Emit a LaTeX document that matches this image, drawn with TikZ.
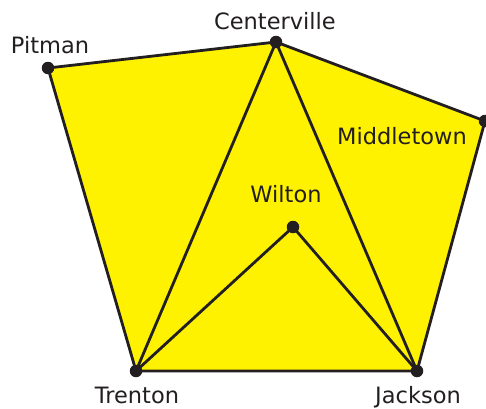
\documentclass[tikz,border=0pt]{standalone}
\usepackage{fontspec}
\setmainfont{DejaVu Sans}
\usetikzlibrary{backgrounds}
\definecolor{ink}{HTML}{231F20}
\definecolor{region}{HTML}{FFF200}

\begin{document}
\begin{tikzpicture}[x=1pt, y=-1pt,
  town/.style={circle, fill=ink, inner sep=0pt, minimum size=12.5pt},
  lbl/.style={anchor=base, text=ink, font=\fontsize{22.5}{26}\selectfont, inner sep=0pt},
  road/.style={draw=ink, line width=2.8pt, line join=round}
]
\useasboundingbox (0,0) rectangle (486,408);

% Towns
\node[town] (pitman)      at (48,68)   {};
\node[town] (centerville) at (276,42)  {};
\node[town] (middletown)  at (485,121) {};
\node[town] (wilton)      at (293,227) {};
\node[town] (trenton)     at (136,371) {};
\node[town] (jackson)     at (417,371) {};

% Names
\node[lbl] (pitman-lbl)      at (50,53)   {Pitman};
\node[lbl] (centerville-lbl) at (275,29)  {Centerville};
\node[lbl] (middletown-lbl)  at (402,144) {Middletown};
\node[lbl] (wilton-lbl)      at (286,202) {Wilton};
\node[lbl] (trenton-lbl)     at (137,403) {Trenton};
\node[lbl] (jackson-lbl)     at (418,403) {Jackson};

% Region and roads behind the towns
\begin{scope}[on background layer]
\fill[region] (pitman.center) -- (centerville.center) -- (middletown.center)
  -- (jackson.center) -- (trenton.center) -- cycle;
\draw[road] (pitman.center) -- (centerville.center) -- (middletown.center)
  -- (jackson.center) -- (trenton.center) -- cycle;
\draw[road] (centerville.center) -- (trenton.center);
\draw[road] (centerville.center) -- (jackson.center);
\draw[road] (wilton.center) -- (trenton.center);
\draw[road] (wilton.center) -- (jackson.center);
\end{scope}
\end{tikzpicture}
\end{document}
